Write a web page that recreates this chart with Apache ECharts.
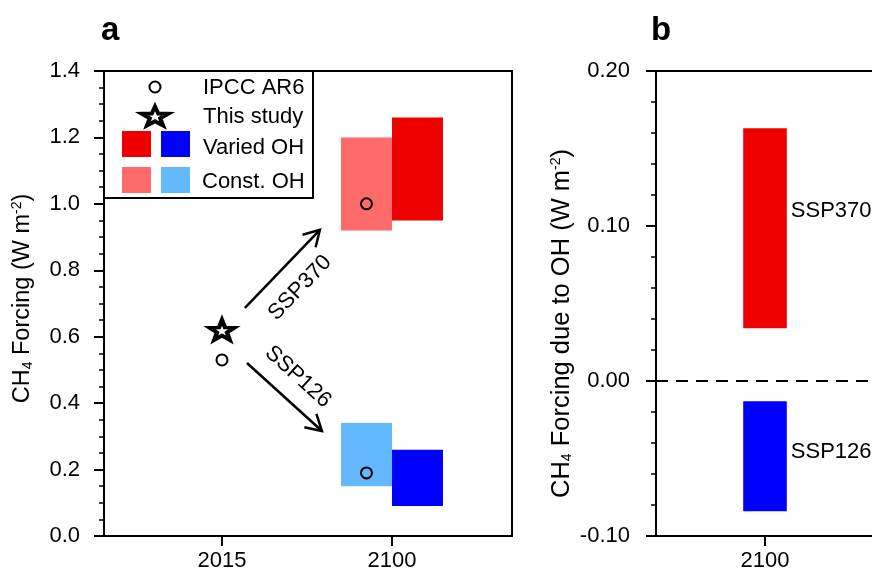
<!DOCTYPE html>
<html>
<head>
<meta charset="utf-8">
<script src="https://cdn.jsdelivr.net/npm/echarts@6/dist/echarts.min.js"></script>
<style>
html,body{margin:0;padding:0;background:#fff;overflow:hidden;width:872px;height:573px;}
#chart{width:900px;height:573px;}
</style>
</head>
<body>
<div id="chart"></div>
<script>
// ---------- data ----------
const categories = ['2015', '2100'];
// panel a: CH4 forcing (W m-2)
const ipccCat = [0, 1, 1];             // 2015, 2100 SSP370, 2100 SSP126
const ipccAR6 = [0.53, 1.00, 0.19];
const studyCat = [0];
const thisStudy = [0.62];
const ssp370Const = [0.92, 1.20];
const ssp370Varied = [0.95, 1.26];
const ssp126Const = [0.15, 0.34];
const ssp126Varied = [0.09, 0.26];
// arrows (annotation, data units: [x0, y0, x1, y1]) and their labels
const arrowNames = ['SSP370', 'SSP126'];
const arrowSSP370 = [0.135, 0.687, 0.576, 0.922];
const arrowSSP126 = [0.147, 0.521, 0.588, 0.316];
const arrowLabelAt = [[0.459, 0.747], [0.447, 0.479]];
// panel b: CH4 forcing due to OH (W m-2), 2100
const ohNames = ['SSP370', 'SSP126'];
const ohSSP370 = [0.034, 0.163];
const ohSSP126 = [-0.084, -0.013];
const ohLabelY = [0.11, -0.046];
// ---------- style ----------
const C_RED = '#EE0000', C_LRED = '#FF6A6A', C_BLUE = '#0000FF', C_LBLUE = '#63B8FF';
const FONT = 'Liberation Sans, Arial, Helvetica, sans-serif';
const FS = 22;
const BOX_W = 0.3;
const starPath = 'path://M50 0 L61.76 33.82 L97.55 34.55 L69.02 56.18 L79.39 90.45 L50 70 L20.61 90.45 L30.98 56.18 L2.45 34.55 L38.24 33.82 Z';
const starUnit = [[50,0],[61.76,33.82],[97.55,34.55],[69.02,56.18],[79.39,90.45],[50,70],[20.61,90.45],[30.98,56.18],[2.45,34.55],[38.24,33.82]];
function starPoints(cx, cy, w, h) {
  return starUnit.map(p => [cx + (p[0] - 50) / 95.1 * w, cy + (p[1] - 45.2) / 90.45 * h]);
}

const boxData = [
  [1, ssp370Const[0], ssp370Const[1], 0],
  [1, ssp126Const[0], ssp126Const[1], 1],
  [1, ssp370Varied[0], ssp370Varied[1], 2],
  [1, ssp126Varied[0], ssp126Varied[1], 3]
];
const boxColors = [C_LRED, C_LBLUE, C_RED, C_BLUE];
const ipccData = ipccCat.map((c, i) => [c === 0 ? c : c - BOX_W / 2, ipccAR6[i]]);
const starData = studyCat.map((c, i) => [c, thisStudy[i]]);
const arrowData = [arrowSSP370, arrowSSP126];
const ohData = [[1, ohSSP370[0], ohSSP370[1]], [1, ohSSP126[0], ohSSP126[1]]];
const ohColors = [C_RED, C_BLUE];

const axisBase = {
  axisLine: {show: true, onZero: false, lineStyle: {color: '#000', width: 2}},
  axisTick: {show: true, inside: false, length: 10, lineStyle: {color: '#000', width: 2}},
  axisLabel: {color: '#000', fontSize: FS, fontFamily: FONT},
  splitLine: {show: false}
};
function titleRich(fs) {
  return {
    m: {fontSize: fs, fontFamily: FONT, color: '#000', lineHeight: 28},
    sub: {fontSize: 14, fontFamily: FONT, color: '#000', lineHeight: 28, padding: [11, 0, 0, 0]},
    sup: {fontSize: 14, fontFamily: FONT, color: '#000', lineHeight: 28, padding: [0, 0, 12, 0]}
  };
}
// panel b plot extends beyond the right edge of the picture (cut off, as in the source)
const B_MAX = 1;

const chart = echarts.init(document.getElementById('chart'), null, {renderer: 'canvas'});
const option = {
  animation: false,
  backgroundColor: '#fff',
  textStyle: {fontFamily: FONT},
  title: [
    {text: 'a', left: 96, top: 9, textStyle: {fontSize: 33, fontWeight: 'bold', color: '#000', fontFamily: FONT}},
    {text: 'b', left: 646, top: 9, textStyle: {fontSize: 33, fontWeight: 'bold', color: '#000', fontFamily: FONT}}
  ],
  grid: [
    {left: 104, top: 71, width: 408, height: 465, show: true, borderColor: '#000', borderWidth: 2,
      backgroundColor: 'transparent', containLabel: false, outerBoundsMode: 'none'},
    {left: 656, top: 71, width: 109 * (1 + B_MAX), height: 465, show: false,
      containLabel: false, outerBoundsMode: 'none'}
  ],
  xAxis: [
    Object.assign({}, axisBase, {
      gridIndex: 0, type: 'value', min: -0.694, max: 1.706,
      axisTick: Object.assign({}, axisBase.axisTick, {customValues: [0, 1]}),
      axisLabel: Object.assign({}, axisBase.axisLabel, {customValues: [0, 1], margin: 14,
        formatter: v => categories[Math.round(v)]})
    }),
    Object.assign({}, axisBase, {
      gridIndex: 1, type: 'value', min: -1, max: B_MAX,
      axisTick: Object.assign({}, axisBase.axisTick, {customValues: [0]}),
      axisLabel: Object.assign({}, axisBase.axisLabel, {customValues: [0], margin: 14,
        formatter: () => categories[1]})
    }),
    {
      gridIndex: 1, type: 'value', min: -1, max: B_MAX, position: 'top',
      axisLine: {show: true, onZero: false, lineStyle: {color: '#000', width: 2}},
      axisTick: {show: false}, axisLabel: {show: false}, splitLine: {show: false}
    }
  ],
  yAxis: [
    Object.assign({}, axisBase, {
      gridIndex: 0, type: 'value', min: 0, max: 1.4, interval: 0.2,
      minorTick: {show: true, splitNumber: 4, length: 5, lineStyle: {color: '#000', width: 1.5}},
      axisLabel: Object.assign({}, axisBase.axisLabel, {margin: 24, formatter: v => v.toFixed(1)}),
      name: '{m|CH}{sub|4}{m| Forcing (W m}{sup|-2}{m|)}',
      nameLocation: 'middle', nameGap: 67, nameRotate: 90,
      nameTextStyle: {color: '#000', fontFamily: FONT, padding: [0, 0, 0, 10], rich: titleRich(23.5)}
    }),
    Object.assign({}, axisBase, {
      gridIndex: 1, type: 'value', min: -0.1, max: 0.2, interval: 0.1,
      minorTick: {show: true, splitNumber: 5, length: 5, lineStyle: {color: '#000', width: 1.5}},
      axisLabel: Object.assign({}, axisBase.axisLabel, {margin: 26,
        formatter: v => (Math.abs(v) < 1e-9 ? 0 : v).toFixed(2)}),
      name: '{m|CH}{sub|4}{m| Forcing due to OH (W m}{sup|-2}{m|)}',
      nameLocation: 'middle', nameGap: 80, nameRotate: 90,
      nameTextStyle: {color: '#000', fontFamily: FONT, padding: [0, 40, 0, 0], rich: titleRich(25.5)}
    })
  ],
  series: [
    {
      type: 'custom', xAxisIndex: 0, yAxisIndex: 0, data: boxData, z: 2,
      renderItem: (params, api) => {
        const cat = api.value(0), lo = api.value(1), hi = api.value(2), kind = api.value(3);
        const x0 = kind < 2 ? cat - BOX_W : cat;
        const p0 = api.coord([x0, hi]);
        const p1 = api.coord([x0 + BOX_W, lo]);
        return {type: 'rect', shape: {x: p0[0], y: p0[1], width: p1[0] - p0[0], height: p1[1] - p0[1]},
          style: {fill: boxColors[params.dataIndex]}};
      }
    },
    {
      type: 'custom', xAxisIndex: 0, yAxisIndex: 0, data: arrowData, z: 3,
      renderItem: (params, api) => {
        const p0 = api.coord([api.value(0), api.value(1)]);
        const p1 = api.coord([api.value(2), api.value(3)]);
        const dx = p1[0] - p0[0], dy = p1[1] - p0[1];
        const len = Math.sqrt(dx * dx + dy * dy);
        const ux = dx / len, uy = dy / len;
        const L = 18, th = Math.PI / 6;
        const arm = s => {
          const c = Math.cos(s * th), sn = Math.sin(s * th);
          const bx = -ux, by = -uy;
          return [p1[0] + L * (bx * c - by * sn), p1[1] + L * (bx * sn + by * c)];
        };
        const lp = api.coord(arrowLabelAt[params.dataIndex]);
        const rot = Math.atan2(-dy, dx);
        return {type: 'group', children: [
          {type: 'polyline', shape: {points: [p0, p1]}, style: {stroke: '#000', lineWidth: 2.5, fill: null}},
          {type: 'polyline', shape: {points: [arm(1), p1, arm(-1)]}, style: {stroke: '#000', lineWidth: 2.5, fill: null, lineJoin: 'miter'}},
          {type: 'text', x: lp[0], y: lp[1], rotation: rot,
            style: {text: arrowNames[params.dataIndex], fill: '#000', fontSize: FS, fontFamily: FONT,
              align: 'center', verticalAlign: 'middle', textAlign: 'center', textVerticalAlign: 'middle'}}
        ]};
      }
    },
    {
      type: 'scatter', xAxisIndex: 0, yAxisIndex: 0, data: ipccData, z: 5,
      symbol: 'circle', symbolSize: 11,
      itemStyle: {color: 'rgba(0,0,0,0)', borderColor: '#000', borderWidth: 2, opacity: 1}
    },
    {
      type: 'scatter', xAxisIndex: 0, yAxisIndex: 0, data: starData, z: 5,
      symbol: starPath, symbolSize: [25, 20],
      itemStyle: {color: '#fff', borderColor: '#000', borderWidth: 4, borderJoin: 'miter', opacity: 1}
    },
    {
      type: 'custom', xAxisIndex: 1, yAxisIndex: 1, data: ohData, z: 2,
      renderItem: (params, api) => {
        const lo = api.value(1), hi = api.value(2);
        const p0 = api.coord([-0.2, hi]);
        const p1 = api.coord([0.2, lo]);
        const lp = api.coord([0.2, ohLabelY[params.dataIndex]]);
        return {type: 'group', children: [
          {type: 'rect', shape: {x: p0[0], y: p0[1], width: p1[0] - p0[0], height: p1[1] - p0[1]},
            style: {fill: ohColors[params.dataIndex]}},
          {type: 'text', x: lp[0] + 4, y: lp[1],
            style: {text: ohNames[params.dataIndex], fill: '#000', fontSize: FS, fontFamily: FONT,
              align: 'left', verticalAlign: 'middle', textAlign: 'left', textVerticalAlign: 'middle'}}
        ]};
      },
      markLine: {
        silent: true, symbol: ['none', 'none'], label: {show: false},
        lineStyle: {color: '#000', width: 2, type: [12, 8]},
        data: [{yAxis: 0}]
      }
    }
  ],
  graphic: [
    {type: 'group', z: 100, children: [
      {type: 'rect', shape: {x: 104, y: 71, width: 209, height: 127}, style: {fill: '#fff', stroke: '#000', lineWidth: 2}},
      {type: 'circle', shape: {cx: 155, cy: 87, r: 5.5}, style: {fill: '#fff', stroke: '#000', lineWidth: 2}},
      {type: 'polygon', shape: {points: starPoints(155, 116, 26, 19)}, style: {fill: '#fff', stroke: '#000', lineWidth: 4, lineJoin: 'miter'}},
      {type: 'rect', shape: {x: 122, y: 131, width: 29, height: 26}, style: {fill: C_RED}},
      {type: 'rect', shape: {x: 161, y: 131, width: 29, height: 26}, style: {fill: C_BLUE}},
      {type: 'rect', shape: {x: 122, y: 167, width: 29, height: 26}, style: {fill: C_LRED}},
      {type: 'rect', shape: {x: 161, y: 167, width: 29, height: 26}, style: {fill: C_LBLUE}},
      {type: 'text', x: 203, y: 88, style: {text: 'IPCC AR6', fill: '#000', fontSize: FS, fontFamily: FONT, verticalAlign: 'middle'}},
      {type: 'text', x: 203, y: 117, style: {text: 'This study', fill: '#000', fontSize: FS, fontFamily: FONT, verticalAlign: 'middle'}},
      {type: 'text', x: 203, y: 148, style: {text: 'Varied OH', fill: '#000', fontSize: FS, fontFamily: FONT, verticalAlign: 'middle'}},
      {type: 'text', x: 202, y: 182, style: {text: 'Const. OH', fill: '#000', fontSize: FS, fontFamily: FONT, verticalAlign: 'middle'}}
    ]}
  ]
};
chart.setOption(option);
</script>
</body>
</html>
